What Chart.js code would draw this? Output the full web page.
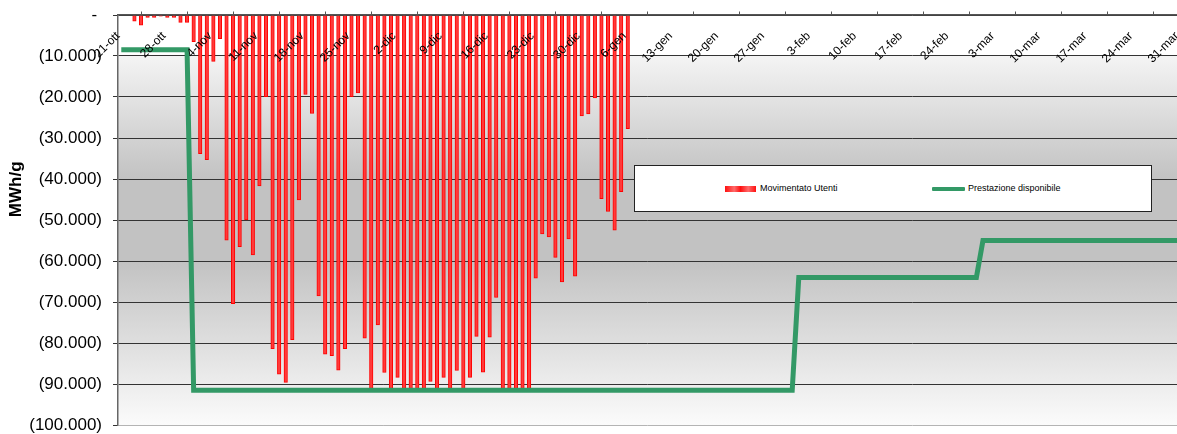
<!DOCTYPE html>
<html>
<head>
<meta charset="utf-8">
<title>Movimentato Utenti</title>
<script src="https://cdn.jsdelivr.net/npm/chart.js@4.4.1/dist/chart.umd.min.js"></script>
<style>
  body { margin: 0; background: #fff; }
  #wrap { position: relative; width: 1177px; height: 434px; }
  #legendBox {
    position: absolute; left: 634px; top: 165px; width: 516px; height: 45px;
    border: 1px solid #222; background: #fff;
    font-family: "Liberation Sans", Arial, sans-serif; font-size: 9px; color: #000;
  }
  .item { position: absolute; top: 17px; line-height: 11px; white-space: nowrap; }
  .swatchBar {
    position: absolute; top: 20px; left: 90px; width: 31px; height: 6px;
    background: linear-gradient(to right, #ff1010, #ff6a6a 30%, #ff1010 50%, #ff6a6a 75%, #ff1010);
  }
  .swatchLine { position: absolute; top: 21px; left: 297px; width: 33px; height: 4px; background: #339966; border-radius: 1px; }
</style>
</head>
<body>
<div id="wrap">
  <canvas id="chart"></canvas>
  <div id="legendBox">
    <div class="swatchBar"></div>
    <div class="item" style="left:125px">Movimentato Utenti</div>
    <div class="swatchLine"></div>
    <div class="item" style="left:333px">Prestazione disponibile</div>
  </div>
</div>
<script>
// Week labels on the top axis (one every 7 days, starting 21-ott)
const weekLabels = ['21-ott', '28-ott', '4-nov', '11-nov', '18-nov', '25-nov', '2-dic', '9-dic',
  '16-dic', '23-dic', '30-dic', '6-gen', '13-gen', '20-gen', '27-gen', '3-feb', '10-feb',
  '17-feb', '24-feb', '3-mar', '10-mar', '17-mar', '24-mar', '31-mar'];

// Movimentato Utenti, MWh/g, one value per day from 21-ott to 6-gen
const usage = [
  0, 0, -1500, -2500, -600, -600, -300, -600, -600, -1800,
  -1800, -6500, -33800, -35300, -11300, -5800, -54900, -70400, -56500, -50000,
  -58500, -41700, -19900, -81400, -87600, -89600, -79200, -45100, -19400, -24000,
  -68500, -82700, -83100, -86600, -81400, -19900, -19000, -78800, -91500, -75600,
  -87200, -91500, -88400, -91500, -91500, -91500, -91500, -89400, -91500, -88400,
  -91500, -86700, -91500, -88400, -78400, -87100, -78600, -68900, -91500, -91500,
  -91500, -91500, -91500, -64200, -53400, -54100, -59100, -65100, -54600, -63700,
  -24600, -24100, -20200, -44800, -47900, -52500, -43100, -27700
];

// Prestazione disponibile: day index (from 21-ott) and value at each corner of the step line
const capacityDays = [0, 10, 11, 102, 103, 130, 131, 161];
const capacity = [-8500, -8500, -91500, -91500, -64000, -64000, -55000, -55000];

const FONT = '"Liberation Sans", Arial, sans-serif';

function fmtThousands(n) {
  return String(n).replace(/\B(?=(\d{3})+(?!\d))/g, '.');
}

// gradient fill of the plot area
const plotBackground = {
  id: 'plotBackground',
  beforeDraw(chart) {
    const { ctx, chartArea: a } = chart;
    const g = ctx.createLinearGradient(0, a.top, 0, a.bottom);
    g.addColorStop(0, '#ffffff');
    g.addColorStop(0.099, '#ffffff');
    g.addColorStop(0.1, '#f4f4f4');
    g.addColorStop(0.4, '#c2c2c2');
    g.addColorStop(0.6, '#c2c2c2');
    g.addColorStop(1, '#fbfbfb');
    ctx.save();
    ctx.fillStyle = g;
    ctx.fillRect(a.left, a.top, a.width, a.height);
    ctx.restore();
  }
};

const barPoints = usage.map((v, i) => ({ x: i + 0.5, y: v }));
const linePoints = capacity.map((v, i) => ({ x: capacityDays[i] + 0.5, y: v }));

new Chart(document.getElementById('chart').getContext('2d'), {
  type: 'bar',
  data: {
    datasets: [
      {
        type: 'line',
        label: 'Prestazione disponibile',
        data: linePoints,
        borderColor: '#339966',
        borderWidth: 5,
        borderJoinStyle: 'miter',
        pointRadius: 0,
        tension: 0,
        fill: false,
        order: 0
      },
      {
        type: 'bar',
        label: 'Movimentato Utenti',
        data: barPoints,
        backgroundColor: '#ff3a3a',
        borderColor: '#ff0000',
        borderWidth: 1,
        barThickness: 3.5,
        order: 1
      }
    ]
  },
  options: {
    responsive: true,
    maintainAspectRatio: false,
    animation: false,
    layout: { padding: { top: 15, bottom: 9, left: 0, right: 0 } },
    plugins: { legend: { display: false }, tooltip: { enabled: false } },
    scales: {
      x: {
        type: 'linear',
        position: { y: 0 },
        offset: false,
        min: 0,
        max: 161,
        afterBuildTicks: s => { s.ticks = weekLabels.map((_, i) => ({ value: i * 7 })); },
        afterFit: s => { s.paddingLeft = 0; s.paddingRight = 0; },
        ticks: {
          z: 1,
          autoSkip: false,
          minRotation: 45,
          maxRotation: 45,
          padding: 18,
          color: '#000',
          font: { family: FONT, size: 12 },
          callback: (v, i) => weekLabels[i]
        },
        grid: { drawOnChartArea: false, drawTicks: true, tickLength: -4, tickColor: '#555', tickWidth: 1 },
        border: { display: true, color: '#555', width: 1.5, z: 1 }
      },
      y: {
        min: -100000,
        max: 0,
        afterFit: s => { s.width = 118; s.paddingTop = 0; s.paddingBottom = 0; },
        ticks: {
          stepSize: 10000,
          padding: 11,
          color: '#000',
          font: { family: FONT, size: 17 },
          callback: v => v === 0 ? '- ' : '(' + fmtThousands(-v) + ')'
        },
        grid: {
          color: c => c.tick.value === -100000 ? '#b4b4b4' : '#333',
          lineWidth: 1,
          tickLength: 5,
          tickColor: '#333'
        },
        border: { color: '#666', width: 1.5 },
        title: {
          display: true,
          text: '             MWh/g',
          color: '#000',
          font: { family: FONT, size: 17, weight: 'bold' },
          padding: { top: 6, bottom: 0 }
        }
      }
    }
  },
  plugins: [plotBackground]
});
</script>
</body>
</html>
